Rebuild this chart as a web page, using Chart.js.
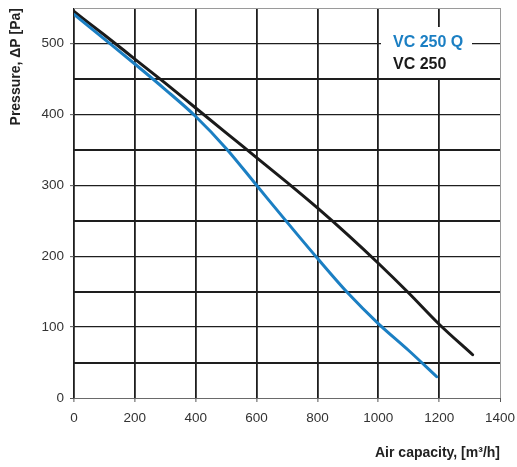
<!DOCTYPE html>
<html>
<head>
<meta charset="utf-8">
<script src="https://cdn.jsdelivr.net/npm/chart.js@4.4.1/dist/chart.umd.min.js"></script>
<style>
  html, body { margin: 0; padding: 0; background: #fff; }
  #wrap { width: 517px; height: 467px; position: relative; }
</style>
</head>
<body>
<div id="wrap"><canvas id="c" width="517" height="467"></canvas></div>
<script>
// ---- data ----
const seriesNames = ["VC 250 Q", "VC 250"];
const flowVC250Q  = [0, 100, 200, 300, 400, 500, 600, 700, 800, 900, 1000, 1100, 1192];
const pressVC250Q = [541, 506, 471, 435, 397, 352, 300, 248, 197, 148, 105, 67, 30];
const flowVC250   = [0, 100, 200, 300, 400, 500, 600, 700, 800, 900, 1000, 1100, 1200, 1310];
const pressVC250  = [545, 512, 478, 444, 409, 374, 339, 304, 268, 230, 190, 148, 104, 61];
const xTicks = [0, 200, 400, 600, 800, 1000, 1200, 1400];
const yTicks = [0, 100, 200, 300, 400, 500];

const BLUE = "#1b7fc3";
const BLACK = "#1a1a1a";
const FONT = "'Liberation Sans', Arial, Helvetica, sans-serif";

function toPoints(xs, ys) { return xs.map((x, i) => ({ x: x, y: ys[i] })); }

const legendBox = {
  id: 'legendBox',
  afterDatasetsDraw(chart) {
    const ctx = chart.ctx;
    ctx.save();
    ctx.fillStyle = '#fff';
    ctx.fillRect(381, 27, 91, 51);
    ctx.font = 'bold 16px ' + FONT;
    ctx.textAlign = 'left';
    ctx.textBaseline = 'alphabetic';
    ctx.fillStyle = BLUE;
    ctx.fillText(seriesNames[0], 393, 47);
    ctx.fillStyle = BLACK;
    ctx.fillText(seriesNames[1], 393, 69);
    ctx.restore();
  }
};

new Chart(document.getElementById('c'), {
  type: 'scatter',
  data: {
    datasets: [
      { label: seriesNames[0], data: toPoints(flowVC250Q, pressVC250Q), showLine: true,
        borderColor: BLUE, borderWidth: 3, pointRadius: 0, cubicInterpolationMode: 'monotone', borderCapStyle: 'round' },
      { label: seriesNames[1], data: toPoints(flowVC250, pressVC250), showLine: true,
        borderColor: BLACK, borderWidth: 3, pointRadius: 0, cubicInterpolationMode: 'monotone', borderCapStyle: 'round' }
    ]
  },
  options: {
    responsive: false,
    animation: false,
    devicePixelRatio: 1,
    layout: { padding: { top: 8, right: 17, left: 0, bottom: 0 } },
    plugins: { legend: { display: false }, tooltip: { enabled: false } },
    scales: {
      x: {
        type: 'linear', min: 0, max: 1400,
        afterFit(s) { s.height = 69; s.paddingLeft = 0; s.paddingRight = 0; },
        afterBuildTicks(s) { s.ticks = xTicks.map(v => ({ value: v })); },
        border: { display: false },
        grid: {
          color: c => (c.tick && c.tick.value === 1400) ? '#9a9a9a' : '#1e1e1e',
          lineWidth: c => (c.tick && c.tick.value === 1400) ? 1 : 1.8,
          tickLength: 4,
          tickColor: '#555',
          tickWidth: 1
        },
        ticks: { color: '#333', padding: 8, font: { family: FONT, size: 13.5 }, maxRotation: 0,
                 callback: v => String(v) },
        title: { display: true, text: 'Air capacity, [m³/h]', align: 'end', color: '#222',
                 font: { family: FONT, size: 14, weight: 'bold' }, padding: { top: 0, bottom: 5 } }
      },
      y: {
        type: 'linear', min: 0, max: 550,
        afterFit(s) { s.width = 74; s.paddingTop = 0; s.paddingBottom = 0; },
        afterBuildTicks(s) {
          const t = [];
          for (let v = 0; v <= 550; v += 50) t.push({ value: v });
          s.ticks = t;
        },
        border: { display: false },
        grid: {
          color: c => {
            if (!c.tick) return '#1e1e1e';
            if (c.tick.value === 550) return '#9a9a9a';
            if (c.tick.value === 0) return '#6a6a6a';
            return '#1e1e1e';
          },
          lineWidth: c => {
            if (!c.tick) return 1.3;
            if (c.tick.value === 550 || c.tick.value === 0) return 1;
            return (c.tick.value % 100 === 50) ? 2 : 1.3;
          },
          tickLength: 4,
          tickColor: c => (c.tick && yTicks.includes(c.tick.value)) ? '#555' : 'rgba(0,0,0,0)',
          tickWidth: 1
        },
        ticks: {
          color: '#333', padding: 6, font: { family: FONT, size: 13.5 },
          callback: v => yTicks.includes(v) ? String(v) : ''
        },
        title: { display: true, text: 'Pressure, ΔP [Pa]', align: 'end', color: '#222',
                 font: { family: FONT, size: 14, weight: 'bold' }, padding: { top: 8, bottom: 0 } }
      }
    }
  },
  plugins: [legendBox]
});
</script>
</body>
</html>
